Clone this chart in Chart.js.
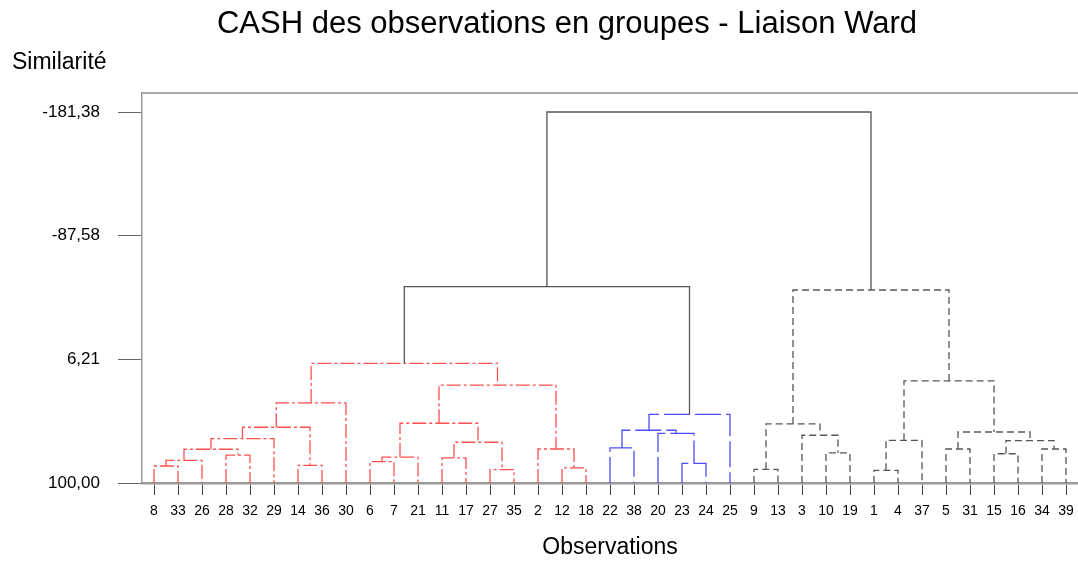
<!DOCTYPE html>
<html>
<head>
<meta charset="utf-8">
<script src="https://cdn.jsdelivr.net/npm/chart.js@4"></script>
<style>
  html, body { margin: 0; padding: 0; background: #fff; }
  #dendro { display: block; }
</style>
</head>
<body>
<canvas id="dendro" width="1078" height="561"></canvas>
<script>
	// observations dans l'ordre de l'axe horizontal
	const leafLabels = ['8','33','26','28','32','29','14','36','30','6','7','21','11','17','27','35','2','12','18',
		'22','38','20','23','24','25','9','13','3','10','19','1','4','37','5','31','15','16','34','39'];

	// fusions : enfant gauche, enfant droit, similarité ('o' = observation, 'm' = fusion précédente)
	const mergeLeft  = ['o8','m0','o28','m1','m3','o14','m4','m6','o6','m8','o11','o27','m10','m9','o12','o2','m13','m7',
		'o22','o23','o20','m18','m21','m17','o9','o10','o3','m24','o1','m28','o5','o15','o34','m31','m30','m29','m27','m23'];
	const mergeRight = ['o33','o26','o32','m2','o29','o36','m5','o30','o7','o21','o17','o35','m11','m12','o18','m14','m15','m16',
		'o38','o24','m19','m20','o25','m22','o13','o19','m25','m26','o4','o37','o31','o16','o39','m32','m33','m34','m35','m36'];
	const mergeHeight = [87.1, 82.8, 78.8, 74.4, 66.4, 86.6, 57.7, 39.3, 83.8, 80.3, 81.0, 89.9, 69.1, 54.7, 88.6, 74.2, 25.7, 9.2,
		73.4, 85.1, 62.3, 60.0, 47.9, -49.0, 89.6, 77.2, 63.8, 55.2, 90.4, 67.6, 74.2, 77.8, 74.2, 67.9, 61.3, 22.6, -46.4, -181.38];

	// les 3 groupes finaux
	const clusterRoots = ['m17', 'm22', 'm36'];
	const yTicks = [-181.38, -87.58, 6.21, 100.00];

	// styles de trait par groupe
	const styles = {
		m17: { color: '#ff5050', dash: [14, 3, 3, 3] },
		m22: { color: '#4d4dff', dash: [26, 5] },
		m36: { color: '#555555', dash: [7, 4] },
		top: { color: '#555555', dash: [] }
	};

	// position de chaque noeud
	const pos = {};
	leafLabels.forEach((lab, i) => { pos['o' + lab] = { x: i, y: 100 }; });

	// style de chaque fusion (on descend depuis la racine)
	const nodeStyle = {};
	for (let k = mergeHeight.length - 1; k >= 0; k--) {
		const id = 'm' + k;
		if (!nodeStyle[id]) nodeStyle[id] = clusterRoots.includes(id) ? id : 'top';
		if (nodeStyle[id] !== 'top') {
			nodeStyle[mergeLeft[k]] = nodeStyle[id];
			nodeStyle[mergeRight[k]] = nodeStyle[id];
		}
	}

	const pointsByStyle = { m17: [], m22: [], m36: [], top: [] };
	for (let k = 0; k < mergeHeight.length; k++) {
		const a = pos[mergeLeft[k]];
		const b = pos[mergeRight[k]];
		const h = mergeHeight[k];
		const pts = pointsByStyle[nodeStyle['m' + k]];
		pts.push({ x: a.x, y: a.y }, { x: a.x, y: h }, { x: b.x, y: h }, { x: b.x, y: b.y }, { x: b.x, y: null });
		pos['m' + k] = { x: (a.x + b.x) / 2, y: h };
	}

	const datasets = Object.keys(pointsByStyle).map(key => ({
		data: pointsByStyle[key],
		borderColor: styles[key].color,
		borderDash: styles[key].dash,
		borderWidth: 1.3,
		pointRadius: 0,
		fill: false,
		tension: 0,
		spanGaps: false
	}));

	// textes fixes et cadre du haut
	const extras = {
		id: 'extras',
		afterDraw(chart) {
			const c = chart.ctx;
			const area = chart.chartArea;
			c.save();
			c.strokeStyle = '#a8a8a8';
			c.lineWidth = 2;
			c.beginPath();
			c.moveTo(area.left, area.top);
			c.lineTo(chart.width, area.top);
			c.stroke();
			c.fillStyle = '#000';
			c.textAlign = 'center';
			c.textBaseline = 'alphabetic';
			c.font = "31px 'Liberation Sans', Arial, sans-serif";
			c.fillText('CASH des observations en groupes - Liaison Ward', 567, 33);
			c.textAlign = 'left';
			c.font = "23px 'Liberation Sans', Arial, sans-serif";
			c.fillText('Similarité', 12, 69);
			c.restore();
		}
	};

	Chart.defaults.font.family = "'Liberation Sans', Arial, sans-serif";
	Chart.defaults.color = '#000';

	const ctx = document.querySelector('#dendro');
	const dendroChart = new Chart(ctx, {
		type: 'line',
		data: { datasets: datasets },
		options: {
			responsive: false,
			animation: false,
			devicePixelRatio: 1,
			layout: { padding: { top: 93, left: 0, right: 0, bottom: 0 } },
			plugins: { legend: { display: false }, title: { display: false }, tooltip: { enabled: false } },
			scales: {
				x: {
					type: 'linear',
					min: -0.5,
					max: leafLabels.length - 0.5,
					afterBuildTicks: (scale) => { scale.ticks = leafLabels.map((_, i) => ({ value: i })); },
					afterFit: (scale) => {
						scale.height = 78;
						scale.paddingLeft = 0;
						scale.paddingRight = 0;
					},
					ticks: {
						autoSkip: false,
						maxRotation: 0,
						padding: 8,
						font: { size: 14 },
						callback: (v) => leafLabels[v]
					},
					grid: { drawOnChartArea: false, tickLength: 12, color: '#444', tickWidth: 1 },
					border: { color: '#999', width: 2.5 },
					title: { display: true, text: 'Observations', font: { size: 23 }, padding: { top: 0, bottom: 0 } }
				},
				y: {
					type: 'linear',
					reverse: true,
					min: -195.8,
					max: 100,
					afterBuildTicks: (scale) => { scale.ticks = yTicks.map(v => ({ value: v })); },
					afterFit: (scale) => { scale.width = 142; },
					ticks: {
						padding: 18,
						font: { size: 17 },
						callback: (v) => v.toFixed(2).replace('.', ',')
					},
					grid: { drawOnChartArea: false, tickLength: 24, color: '#666' },
					border: { color: '#999', width: 1.5 }
				}
			}
		},
		plugins: [extras]
	});
</script>
</body>
</html>
